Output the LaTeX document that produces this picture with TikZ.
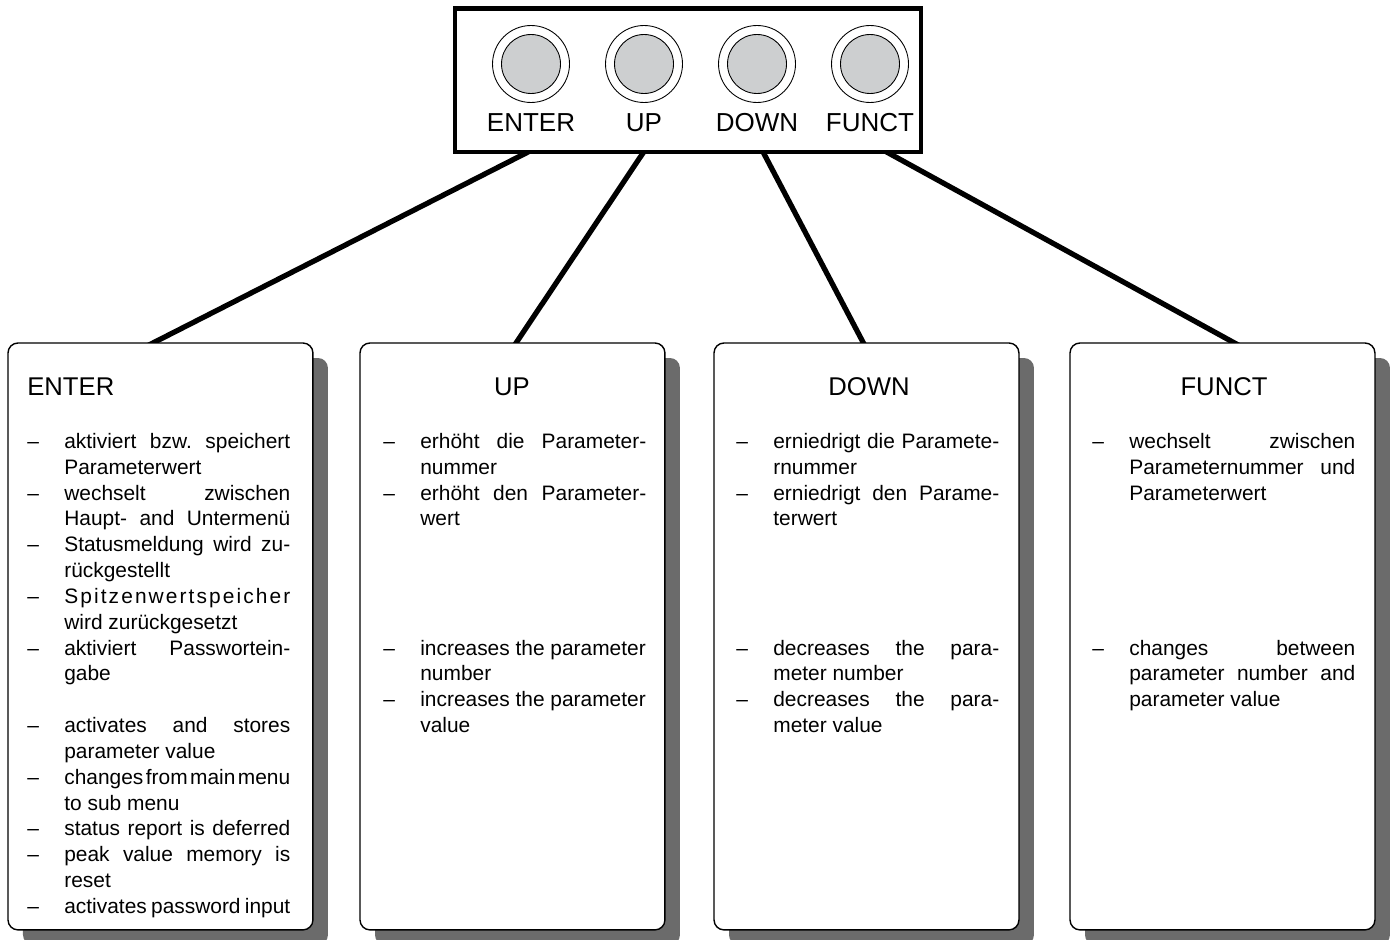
\documentclass[tikz,border=0pt]{standalone}
\usepackage{fontspec}
\setmainfont{Liberation Sans}
\usepackage{xcolor}
\usepackage{tikz}
\usetikzlibrary{shadows}
\definecolor{capfill}{HTML}{CDCFD0}
\definecolor{shade}{HTML}{6B6B6B}
% one justified line of an item, full column width
\newcommand{\jl}[1]{\makebox[4.52cm][s]{\frenchspacing\spaceskip=.28em plus 1fil minus .3em\relax #1}}
\tikzset{
  keypanel/.style={draw,fill=white,line width=2.3pt,minimum width=9.32cm,minimum height=2.87cm,inner sep=0pt,outer sep=0pt},
  btnring/.style={circle,draw,line width=0.5pt,minimum size=1.54cm,inner sep=0pt},
  btncap/.style={circle,draw,line width=0.5pt,fill=capfill,minimum size=1.18cm,inner sep=0pt},
  btnlab/.style={font=\fontsize{14.8}{17}\selectfont,inner sep=0pt},
  menubox/.style={draw,line width=0.8pt,fill=white,rounded corners=0.2cm,minimum width=6.1cm,minimum height=11.74cm,inner sep=0pt,outer sep=0pt,
    drop shadow={shadow xshift=0.3cm,shadow yshift=-0.3cm,fill=shade,opacity=1}},
  menuhead/.style={font=\fontsize{14.6}{17}\selectfont,inner sep=0pt},
  menulist/.style={font=\fontsize{11.9}{14.7}\selectfont,inner sep=0pt,anchor=base west},
  conn/.style={line width=3pt}
}

\begin{document}
\begin{tikzpicture}[x=0.02cm,y=-0.02cm]
  \useasboundingbox (0,0) rectangle (1391,939);
  % connectors first, boxes cover their ends
  \foreach \nm/\xa/\xb in {enter/532/147,up/645/514,down/762/865,funct/883/1240}{
    \coordinate (out\nm) at (\xa,150);
    \coordinate (in\nm) at (\xb,346);
    \draw[conn] (out\nm) -- (in\nm);
  }
  % key panel
  \node[keypanel,anchor=north west] (panel) at (455,8.5) {};
  \foreach \nm/\x/\lab in {enter/531/ENTER,up/644/UP,down/757/DOWN,funct/870/FUNCT}{
    \node[btnring] (ring\nm) at (\x,64) {};
    \node[btncap] (cap\nm) at (ring\nm) {};
    \node[btnlab,anchor=base] (lab\nm) at (\x,131.5) {\lab};
  }
  % menu boxes
  \foreach \nm/\xl in {enter/8,up/360,down/714,funct/1070}
    \node[menubox,anchor=north west] (box\nm) at (\xl,343) {};
  \node[menuhead,anchor=base west] (headenter) at (27,395) {ENTER};
  \node[menuhead,anchor=base] (headup) at (512,395) {UP};
  \node[menuhead,anchor=base] (headdown) at (869,395) {DOWN};
  \node[menuhead,anchor=base] (headfunct) at (1224,395) {FUNCT};
  \node[menulist] (listenter) at (27,448.5) {\begin{tabular}[t]{@{}p{0.74cm}@{}l@{}}
    -- & \jl{aktiviert bzw. speichert}\\
       & Parameterwert\\
    -- & \jl{wechselt zwischen}\\
       & \jl{Haupt- and Untermenü}\\
    -- & \jl{Statusmeldung wird zu-}\\
       & rückgestellt\\
    -- & \jl{S\hfill p\hfill i\hfill t\hfill z\hfill e\hfill n\hfill w\hfill e\hfill r\hfill t\hfill s\hfill p\hfill e\hfill i\hfill c\hfill h\hfill e\hfill r}\\
       & wird zurückgesetzt\\
    -- & \jl{aktiviert Passwortein-}\\
       & gabe\\
       & \\
    -- & \jl{activates and stores}\\
       & parameter value\\
    -- & \jl{changes from main menu}\\
       & to sub menu\\
    -- & \jl{status report is deferred}\\
    -- & \jl{peak value memory is}\\
       & reset\\
    -- & \jl{activates password input}
  \end{tabular}};
  \node[menulist] (listup) at (383,448.5) {\begin{tabular}[t]{@{}p{0.74cm}@{}l@{}}
    -- & \jl{erhöht die Parameter-}\\
       & nummer\\
    -- & \jl{erhöht den Parameter-}\\
       & wert\\
       & \\
       & \\
       & \\
       & \\
    -- & increases the parameter\\
       & number\\
    -- & increases the parameter\\
       & value
  \end{tabular}};
  \node[menulist] (listdown) at (736,448.5) {\begin{tabular}[t]{@{}p{0.74cm}@{}l@{}}
    -- & \jl{erniedrigt die Paramete-}\\
       & rnummer\\
    -- & \jl{erniedrigt den Parame-}\\
       & terwert\\
       & \\
       & \\
       & \\
       & \\
    -- & \jl{decreases the para-}\\
       & meter number\\
    -- & \jl{decreases the para-}\\
       & meter value
  \end{tabular}};
  \node[menulist] (listfunct) at (1092,448.5) {\begin{tabular}[t]{@{}p{0.74cm}@{}l@{}}
    -- & \jl{wechselt zwischen}\\
       & \jl{Parameternummer und}\\
       & Parameterwert\\
       & \\
       & \\
       & \\
       & \\
       & \\
    -- & \jl{changes between}\\
       & \jl{parameter number and}\\
       & parameter value
  \end{tabular}};
\end{tikzpicture}
\end{document}
